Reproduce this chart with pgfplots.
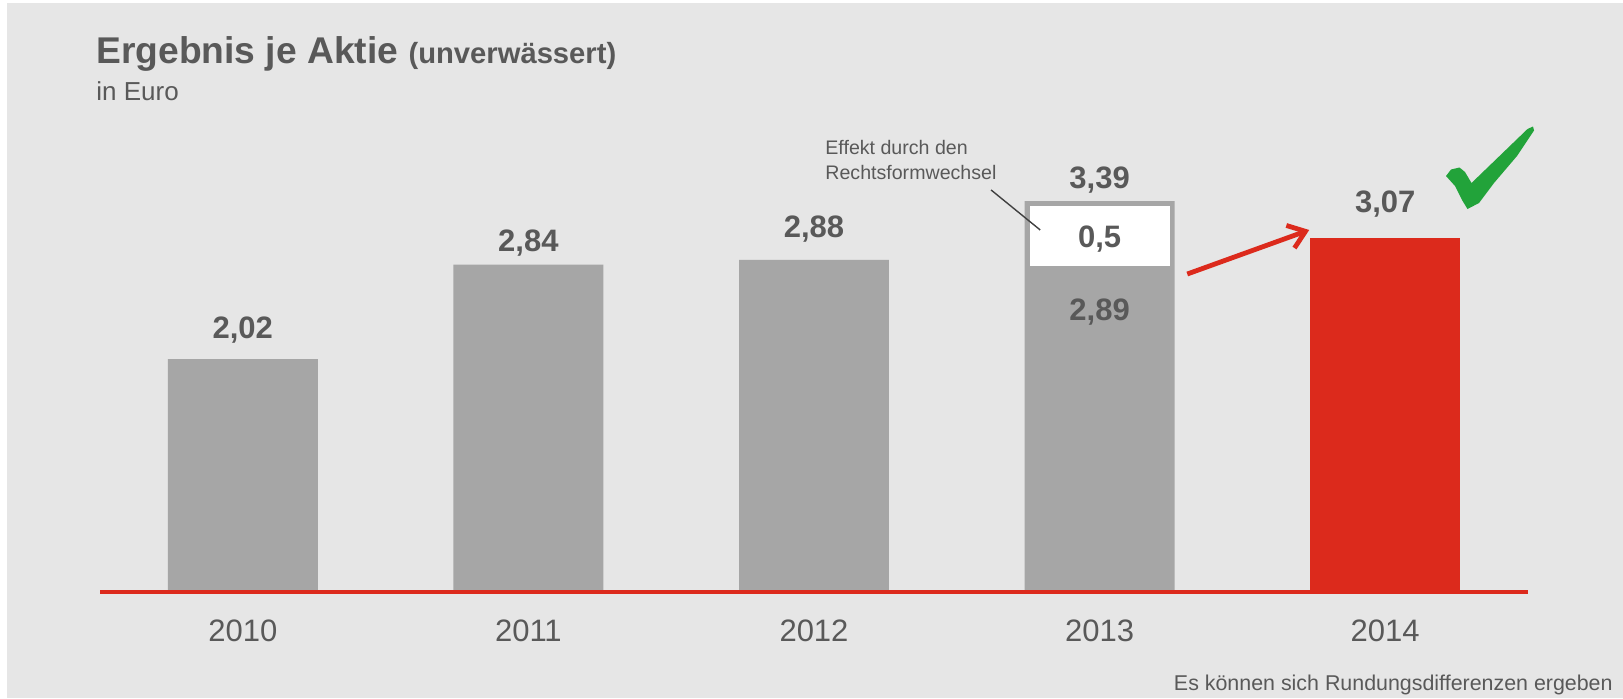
\documentclass[border=0pt]{standalone}
\usepackage{fontspec}
\setmainfont{Liberation Sans}
\usepackage{pgfplots}
\pgfplotsset{compat=1.18}
\usetikzlibrary{arrows.meta}

\definecolor{bg}{HTML}{E6E6E6}
\definecolor{bargray}{HTML}{A6A6A6}
\definecolor{barred}{HTML}{DC2A1C}
\definecolor{txt}{HTML}{595959}
\definecolor{checkgreen}{HTML}{22A33A}

\newcommand{\fs}[1]{\fontsize{#1}{#1}\selectfont}

\begin{document}
\begin{tikzpicture}[x=0.5pt,y=-0.5pt]
% canvas: 1623 x 698 px, 1px = 0.5pt, y downwards
\fill[white] (0,0) rectangle (1623,698);
\fill[bg] (7,3) rectangle (1623,698);

% title block
\node[anchor=base west, inner sep=0pt, text=txt] at (96,63)
  {\bfseries\fs{18.6}Ergebnis je Aktie \fs{14.6}(unverwässert)};
\node[anchor=base west, inner sep=0pt, text=txt] at (96,100) {\fs{13}in Euro};

\begin{axis}[
    at={(50pt,-296pt)}, anchor=south west,
    scale only axis,
    width=714pt, height=230.6pt,
    xmin=-0.5, xmax=4.5,
    ymin=0, ymax=4,
    axis x line*=bottom,
    axis y line=none,
    x axis line style={draw=barred, line width=2pt},
    xtick={0,1,2,3,4},
    xticklabels={2010,2011,2012,2013,2014},
    major tick length=0pt,
    xticklabel style={anchor=base, yshift=-24.5pt, inner sep=0pt,
                      font=\fs{15.5}, text=txt},
    axis on top,
    clip=false,
]
% bars
\addplot[ybar, bar width=0.525, bar shift=0pt, fill=bargray, draw=none]
  coordinates {(0,2.02) (1,2.84) (2,2.88) (3,3.39)};
\addplot[ybar, bar width=0.525, bar shift=0pt, fill=barred, draw=none]
  coordinates {(4,3.07)};
% white inset for the 0,5 effect
\addplot[fill=white, draw=none]
  coordinates {(2.755,2.827) (3.247,2.827) (3.247,3.348) (2.755,3.348)} --cycle;

% value labels
\begin{scope}[every node/.style={anchor=base, inner sep=0pt, text=txt,
                                 font=\bfseries\fs{15.5}}]
\node at (axis cs:0,2.203) {2,02};
\node at (axis cs:1,2.949) {2,84};
\node at (axis cs:2,3.079) {2,88};
\node at (axis cs:3,3.504) {3,39};
\node at (axis cs:3,2.992) {0,5};
\node at (axis cs:3,2.359) {2,89};
\node at (axis cs:4,3.290) {3,07};
\end{scope}

% leader line and arrow
\draw[color=black!75, line width=0.7pt] (axis cs:2.620,3.487) -- (axis cs:2.792,3.140);
\draw[barred, line width=2.4pt, -{Straight Barb[length=8pt,width=12pt]}]
  (axis cs:3.307,2.758) -- (axis cs:3.734,3.140);
\end{axis}

% annotation
\node[anchor=base west, inner sep=0pt, text=txt] at (825,154) {\fs{9.8}Effekt durch den};
\node[anchor=base west, inner sep=0pt, text=txt] at (825,179) {\fs{9.8}Rechtsformwechsel};

% check mark
\fill[checkgreen] (1446,176) -- (1451,169.5) -- (1459.5,167.5) -- (1465,172)
  -- (1471.5,183) -- (1527.5,129) -- (1533,126.5) -- (1534,130.5)
  -- (1517,156) -- (1494,183) -- (1479,203) -- (1467.5,209)
  -- (1462,200) -- (1455,186) -- cycle;

% footer
\node[anchor=base east, inner sep=0pt, text=txt] at (1613,690)
  {\fs{10.7}Es können sich Rundungsdifferenzen ergeben};
\end{tikzpicture}
\end{document}
